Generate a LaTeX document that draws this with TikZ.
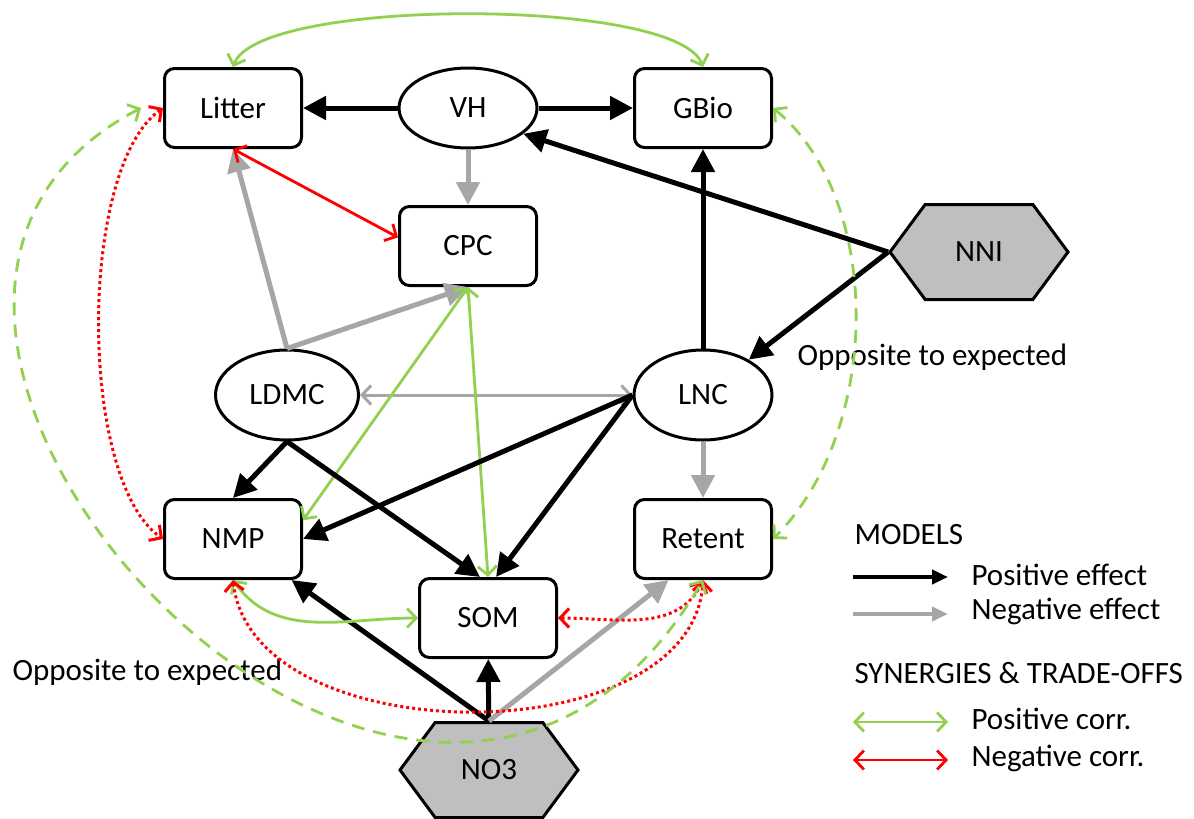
\documentclass[tikz,border=0pt]{standalone}
\usepackage{fontspec}
\setmainfont{Carlito}
\usetikzlibrary{arrows.meta,shapes.geometric,shapes.symbols}
\definecolor{corrgreen}{RGB}{146,208,80}
\definecolor{effgray}{RGB}{166,166,166}
\definecolor{hexgray}{RGB}{191,191,191}

\begin{document}
\begin{tikzpicture}[x=1pt,y=1pt,font=\fontsize{31}{36}\selectfont,
  box/.style={draw,line width=3pt,rounded corners=10pt,minimum width=137pt,minimum height=79pt,inner sep=0pt},
  oval/.style={draw,ellipse,line width=3pt,minimum width=138pt,minimum height=90pt,inner sep=0pt},
  hexa/.style={draw,line width=3pt,fill=hexgray,signal,signal to=west and east,signal pointer angle=107,minimum width=178pt,minimum height=95pt,inner sep=0pt},
  poseff/.style={line width=5pt,-{Triangle[length=23pt,width=23pt]}},
  negeff/.style={effgray,line width=5pt,-{Triangle[length=23pt,width=23pt]}},
  barbs/.style={{Straight Barb[length=9pt,width=19pt]}-{Straight Barb[length=9pt,width=19pt]}},
  poscorr/.style={corrgreen,line width=2.8pt,barbs},
  negcorr/.style={red,line width=2.8pt,barbs},
  dots/.style={line width=3pt,dash pattern=on 3pt off 3pt},
  dashes/.style={dash pattern=on 13pt off 9pt}]
  \useasboundingbox (0,0) rectangle (1194,-819);

  \node[box] (Litter) at (233,-108) {Litter};
  \node[oval,minimum height=80pt] (VH) at (468,-108) {VH};
  \node[box] (GBio) at (703,-108) {GBio};
  \node[box] (CPC) at (468,-246) {CPC};
  \node[hexa] (NNI) at (979,-252) {NNI};
  \node[oval,minimum width=143pt] (LDMC) at (287,-395) {LDMC};
  \node[oval] (LNC) at (703,-395) {LNC};
  \node[box] (NMP) at (233,-539) {NMP};
  \node[box] (Retent) at (703,-539) {Retent};
  \node[box] (SOM) at (488,-618) {SOM};
  \node[hexa] (NO3) at (489,-770) {NO3};
  \node[anchor=west] (oppLNC) at (794,-357) {Opposite to expected};
  \node[anchor=west] (oppNMP) at (9,-672) {Opposite to expected};

  \draw[poseff] (VH) -- (Litter);
  \draw[poseff] (VH) -- (GBio);
  \draw[negeff] (VH) -- (CPC);
  \draw[poseff] (NNI.west) -- (VH.-25);
  \draw[poseff] (NNI.west) -- (LNC);
  \draw[poseff] (LNC) -- (GBio);
  \draw[negeff] (LDMC.north) -- (Litter.south);
  \draw[negeff] (LDMC.north) -- (CPC.south);
  \draw[negcorr] (Litter.south) -- (CPC.173);
  \draw[effgray,line width=3pt,barbs] (LDMC) -- (LNC);
  \draw[poscorr] (CPC.south) -- (NMP.15);
  \draw[poscorr] (CPC.south) -- (SOM.north);
  \draw[poseff] (LDMC.south) -- (NMP.north);
  \draw[poseff] (LDMC.south) -- ([xshift=-8pt]SOM.north);
  \draw[poseff] (LNC.west) -- (NMP.east);
  \draw[poseff] (LNC.west) -- ([xshift=8pt]SOM.north);
  \draw[negeff] (LNC) -- (Retent);
  \draw[poseff] (NO3.north) -- (NMP.-35);
  \draw[poseff] (NO3) -- (SOM);
  \draw[negeff] (NO3.north) -- (Retent.-130);

  \draw[poscorr] (Litter.north) .. controls +(25,70) and +(-25,70) .. (GBio.north);
  \draw[poscorr] (NMP.south) to[out=-55,in=180] (SOM.west);
  \draw[negcorr,dots] (Litter.west) .. controls +(-85,-60) and +(-85,60) .. (NMP.west);
  \draw[negcorr,dots] (NMP.south) .. controls +(20,-175) and +(-10,-175) .. (Retent.south);
  \draw[negcorr,dots] (SOM.east) to[out=0,in=-115] (Retent.south);
  \draw[poscorr,dashes] ([xshift=-22pt]Litter.west) .. controls (-265,-320) and (420,-1065) .. (Retent.south);
  \draw[poscorr,dashes] (GBio.east) .. controls +(110,-90) and +(110,110) .. (Retent.east);

  \node[anchor=west] (models) at (851,-535) {MODELS};
  \coordinate (kposA) at (853,-577); \coordinate (kposB) at (948,-577);
  \coordinate (knegA) at (853,-614); \coordinate (knegB) at (948,-614);
  \coordinate (kgrnA) at (853,-722); \coordinate (kgrnB) at (948,-722);
  \coordinate (kredA) at (853,-760); \coordinate (kredB) at (948,-760);
  \draw[line width=4.5pt,-{Triangle[length=16pt,width=14pt]}] (kposA) -- (kposB);
  \draw[effgray,line width=4.5pt,-{Triangle[length=16pt,width=14pt]}] (knegA) -- (knegB);
  \draw[poscorr] (kgrnA) -- (kgrnB);
  \draw[negcorr] (kredA) -- (kredB);
  \node[anchor=west] (kpos) at (968,-575) {Positive effect};
  \node[anchor=west] (kneg) at (968,-611) {Negative effect};
  \node[anchor=west] (synergy) at (851,-673) {SYNERGIES \& TRADE-OFFS};
  \node[anchor=west] (kgrn) at (968,-719) {Positive corr.};
  \node[anchor=west] (kred) at (968,-758) {Negative corr.};
\end{tikzpicture}
\end{document}
